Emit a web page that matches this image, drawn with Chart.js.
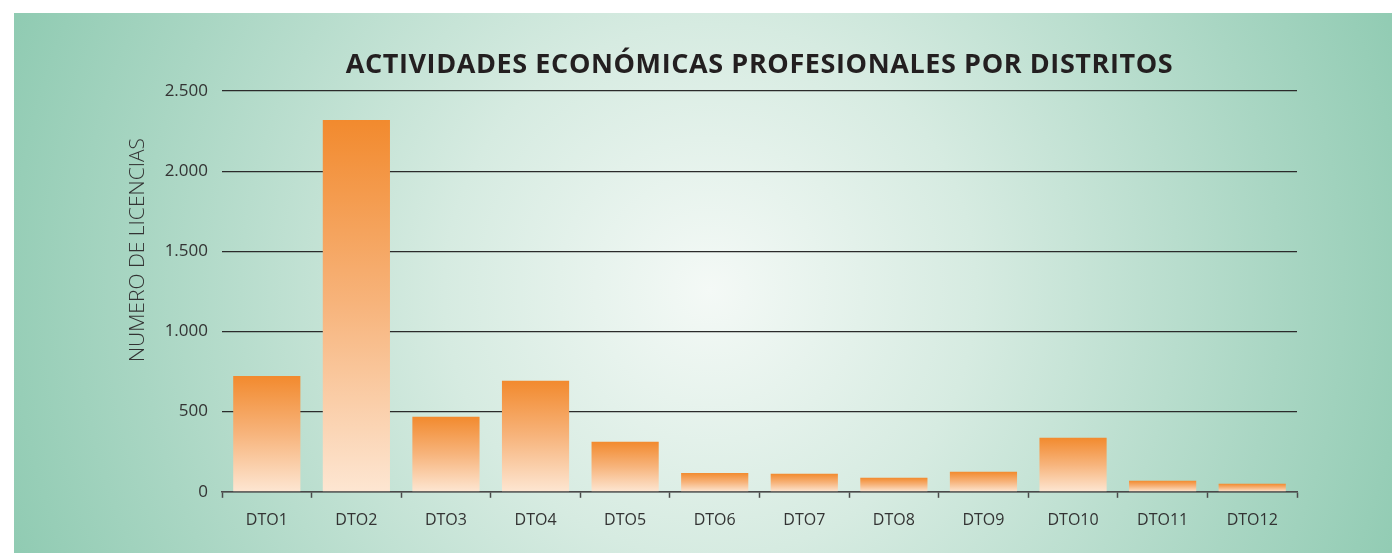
<!DOCTYPE html>
<html>
<head>
<meta charset="utf-8">
<style>
  html, body { margin: 0; padding: 0; background: #ffffff; }
  #wrap { position: relative; width: 1392px; height: 553px; }
</style>
<script src="https://cdn.jsdelivr.net/npm/chart.js@4.4.1/dist/chart.umd.min.js"></script>
</head>
<body>
<div id="wrap"><canvas id="chart" width="1392" height="553"></canvas></div>
<script>
// Licencias de actividades profesionales por distrito
const distritos = ['DTO1', 'DTO2', 'DTO3', 'DTO4', 'DTO5', 'DTO6', 'DTO7', 'DTO8', 'DTO9', 'DTO10', 'DTO11', 'DTO12'];
const licencias = [723, 2319, 468, 692, 312, 118, 112, 87, 125, 337, 69, 50];
const yTicks = [0, 500, 1000, 1500, 2000, 2500];
const tituloGrafico = 'ACTIVIDADES ECONÓMICAS PROFESIONALES POR DISTRITOS';
const tituloEjeY = 'NUMERO DE LICENCIAS';

const FONT = "'Open Sans', 'Noto Sans', sans-serif";

// Soft green panel with a pale radial glow behind the plot
const panelBackground = {
  id: 'panelBackground',
  beforeDraw(chart) {
    const c = chart.ctx;
    c.save();
    c.fillStyle = '#ffffff';
    c.fillRect(0, 0, chart.width, chart.height);
    const g = c.createRadialGradient(710, 290, 0, 710, 290, 760);
    g.addColorStop(0, '#f4f9f6');
    g.addColorStop(0.35, '#d6ebe1');
    g.addColorStop(0.75, '#a9d6c3');
    g.addColorStop(1, '#8ecab1');
    c.fillStyle = g;
    c.fillRect(14, 13, chart.width - 14, chart.height - 13);
    c.restore();
  }
};

// Heading centred over the plot area and the rotated value-axis caption
const headings = {
  id: 'headings',
  afterDraw(chart) {
    const c = chart.ctx;
    const a = chart.chartArea;
    c.save();
    c.fillStyle = '#231f20';
    c.font = `700 27px ${FONT}`;
    if ('letterSpacing' in c) c.letterSpacing = '0.6px';
    c.textAlign = 'center';
    c.textBaseline = 'alphabetic';
    c.fillText(tituloGrafico, (a.left + a.right) / 2, 73);
    if ('letterSpacing' in c) c.letterSpacing = '0px';

    c.fillStyle = '#333333';
    c.font = `300 21px ${FONT}`;
    c.translate(138, 250);
    c.rotate(-Math.PI / 2);
    c.textAlign = 'center';
    c.textBaseline = 'middle';
    c.fillText(tituloEjeY, 0, 0);
    c.restore();
  }
};

function barGradient(ctx) {
  const chart = ctx.chart;
  if (!chart.chartArea || !chart.scales.y) return '#f5a05a';
  const y = chart.scales.y;
  const top = y.getPixelForValue(licencias[ctx.dataIndex]);
  const bottom = y.getPixelForValue(0);
  if (!isFinite(top) || !isFinite(bottom) || bottom - top < 1) return '#f5a05a';
  const g = chart.ctx.createLinearGradient(0, top, 0, bottom);
  g.addColorStop(0, '#f28a2e');
  g.addColorStop(0.5, '#f7b47c');
  g.addColorStop(1, '#fde6d2');
  return g;
}

function miles(v) {
  return String(v).replace(/\B(?=(\d{3})+(?!\d))/g, '.');
}

new Chart(document.getElementById('chart'), {
  type: 'bar',
  data: {
    labels: distritos,
    datasets: [{
      data: licencias,
      backgroundColor: barGradient,
      borderWidth: 0,
      barPercentage: 0.75,
      categoryPercentage: 1.0
    }]
  },
  plugins: [panelBackground, headings],
  options: {
    responsive: false,
    animation: false,
    devicePixelRatio: 1,
    layout: { padding: { left: 0, right: 95, top: 91, bottom: 10 } },
    plugins: {
      legend: { display: false },
      tooltip: { enabled: false },
      title: { display: false }
    },
    scales: {
      x: {
        grid: {
          display: true,
          drawOnChartArea: false,
          drawTicks: true,
          tickLength: 6,
          tickWidth: 1.5,
          tickColor: '#4a4a4a',
          offset: true
        },
        border: { display: true, color: '#4a4a4a', width: 1.5 },
        ticks: {
          color: '#333333',
          font: { family: FONT, size: 16 },
          padding: 13,
          maxRotation: 0,
          autoSkip: false
        }
      },
      y: {
        min: 0,
        max: 2500,
        afterBuildTicks(scale) {
          scale.ticks = yTicks.map(v => ({ value: v }));
        },
        afterFit(scale) { scale.width = 222; },
        grid: {
          color: '#2b2b2b',
          lineWidth: 1.3,
          drawTicks: false
        },
        border: { display: false },
        ticks: {
          color: '#333333',
          font: { family: FONT, size: 17 },
          padding: 14,
          callback: (v) => miles(v)
        },
        title: { display: false }
      }
    }
  }
});
</script>
</body>
</html>
